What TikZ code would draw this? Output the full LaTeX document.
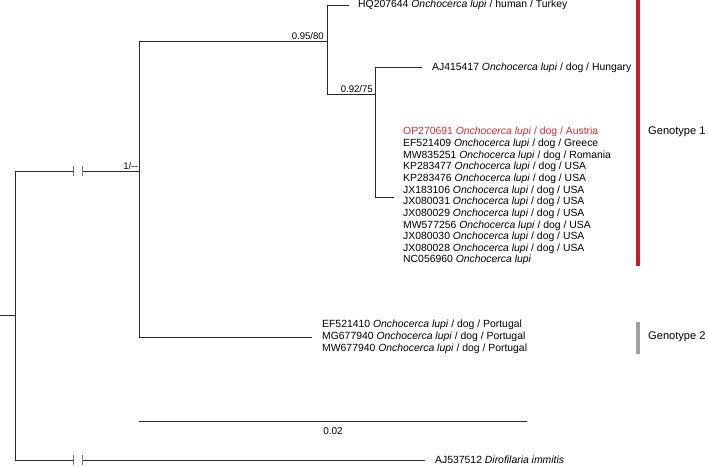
\documentclass[tikz,border=0pt]{standalone}
\usepackage{fontspec}
\setmainfont{Liberation Sans}
\definecolor{gred}{RGB}{196,32,38}
\definecolor{tred}{RGB}{205,45,45}
\definecolor{ggray}{RGB}{160,160,160}
\definecolor{lnc}{RGB}{40,40,40}
\begin{document}
\begin{tikzpicture}[x=1pt,y=-1pt,
  br/.style={draw=lnc,line width=0.8pt},
  tick/.style={draw=black!55,line width=0.8pt},
  tax/.style={anchor=west,inner sep=0pt,font=\fontsize{10.4}{11}\selectfont},
  sup/.style={anchor=south east,inner sep=1pt,font=\fontsize{9.6}{10}\selectfont},
  geno/.style={anchor=west,inner sep=0pt,font=\fontsize{11.1}{12}\selectfont}]
\useasboundingbox (0,0) rectangle (708,466);
% nodes
\coordinate (r0) at (0,315);
\coordinate (r) at (15,315);
\coordinate (rt) at (15,171);
\coordinate (rb) at (15,460);
\coordinate (n1) at (139,171);
\coordinate (n1t) at (139,41);
\coordinate (n1b) at (139,337);
\coordinate (n2) at (327,41);
\coordinate (n2t) at (327,5);
\coordinate (n2b) at (327,94);
\coordinate (n3) at (375,94);
\coordinate (n3t) at (375,67);
\coordinate (n3b) at (375,197);
\coordinate (hq) at (349,5);
\coordinate (aj) at (422,67);
\coordinate (cl) at (394,197);
\coordinate (g2) at (312,337);
\coordinate (dir) at (425,460);
\coordinate (sa) at (139,421);
\coordinate (sb) at (527,421);
\coordinate (b1a) at (73,171);
\coordinate (b1b) at (82,171);
\coordinate (b2a) at (73,460);
\coordinate (b2b) at (82,460);
% branches
\draw[br] (r0) -- (r);
\draw[br] (rt) -- (rb);
\draw[br] (rt) -- (b1a);
\draw[br] (b1b) -- (n1);
\draw[br] (rb) -- (b2a);
\draw[br] (b2b) -- (dir);
\draw[tick] ([yshift=-5]b1a) -- ([yshift=5]b1a);
\draw[tick] ([yshift=-5]b1b) -- ([yshift=5]b1b);
\draw[tick] ([yshift=-5]b2a) -- ([yshift=5]b2a);
\draw[tick] ([yshift=-5]b2b) -- ([yshift=5]b2b);
\draw[br] (n1t) -- (n1b);
\draw[br] (n1t) -- (n2);
\draw[br] (n1b) -- (g2);
\draw[br] (n2t) -- (n2b);
\draw[br] (n2t) -- (hq);
\draw[br] (n2b) -- (n3);
\draw[br] (n3t) -- (n3b);
\draw[br] (n3t) -- (aj);
\draw[br] (n3b) -- (cl);
\draw[br] (sa) -- (sb);
% support values
\node[sup] (s1) at (n1) {1/{-}{-}};
\node[sup] (s2) at ([xshift=-2]n2) {0.95/80};
\node[sup] (s3) at ([xshift=-1]n3) {0.92/75};
\node[anchor=north,inner sep=0pt,font=\fontsize{10}{10}\selectfont] (sl) at (333,427) {0.02};
% taxa
\node[tax] (t1) at (358,5) {HQ207644 \textit{Onchocerca lupi} / human / Turkey};
\node[tax] (t2) at (432,68) {AJ415417 \textit{Onchocerca lupi} / dog / Hungary};
\node[tax,text=tred] (t3) at (403,132) {OP270691 \textit{Onchocerca lupi} / dog / Austria};
\node[tax] (t4) at (403,144) {EF521409 \textit{Onchocerca lupi} / dog / Greece};
\node[tax] (t5) at (403,156) {MW835251 \textit{Onchocerca lupi} / dog / Romania};
\node[tax] (t6) at (403,167) {KP283477 \textit{Onchocerca lupi} / dog / USA};
\node[tax] (t7) at (403,179) {KP283476 \textit{Onchocerca lupi} / dog / USA};
\node[tax] (t8) at (403,191) {JX183106 \textit{Onchocerca lupi} / dog / USA};
\node[tax] (t9) at (403,202) {JX080031 \textit{Onchocerca lupi} / dog / USA};
\node[tax] (t10) at (403,214) {JX080029 \textit{Onchocerca lupi} / dog / USA};
\node[tax] (t11) at (403,226) {MW577256 \textit{Onchocerca lupi} / dog / USA};
\node[tax] (t12) at (403,237) {JX080030 \textit{Onchocerca lupi} / dog / USA};
\node[tax] (t13) at (403,249) {JX080028 \textit{Onchocerca lupi} / dog / USA};
\node[tax] (t14) at (403,260) {NC056960 \textit{Onchocerca lupi}};
\node[tax] (t15) at (322,325) {EF521410 \textit{Onchocerca lupi} / dog / Portugal};
\node[tax] (t16) at (322,337) {MG677940 \textit{Onchocerca lupi} / dog / Portugal};
\node[tax] (t17) at (322,349) {MW677940 \textit{Onchocerca lupi} / dog / Portugal};
\node[tax] (t18) at (435,460) {AJ537512 \textit{Dirofilaria immitis}};
% genotype bars
\coordinate (g1a) at (638,0);
\coordinate (g1b) at (638,266);
\coordinate (g2a) at (638,322);
\coordinate (g2b) at (638,354);
\draw[draw=gred,line width=3.5pt] (g1a) -- (g1b);
\draw[draw=ggray,line width=3.5pt] (g2a) -- (g2b);
\node[geno] (l1) at (648,132) {Genotype 1};
\node[geno] (l2) at (648,337) {Genotype 2};
\end{tikzpicture}
\end{document}
